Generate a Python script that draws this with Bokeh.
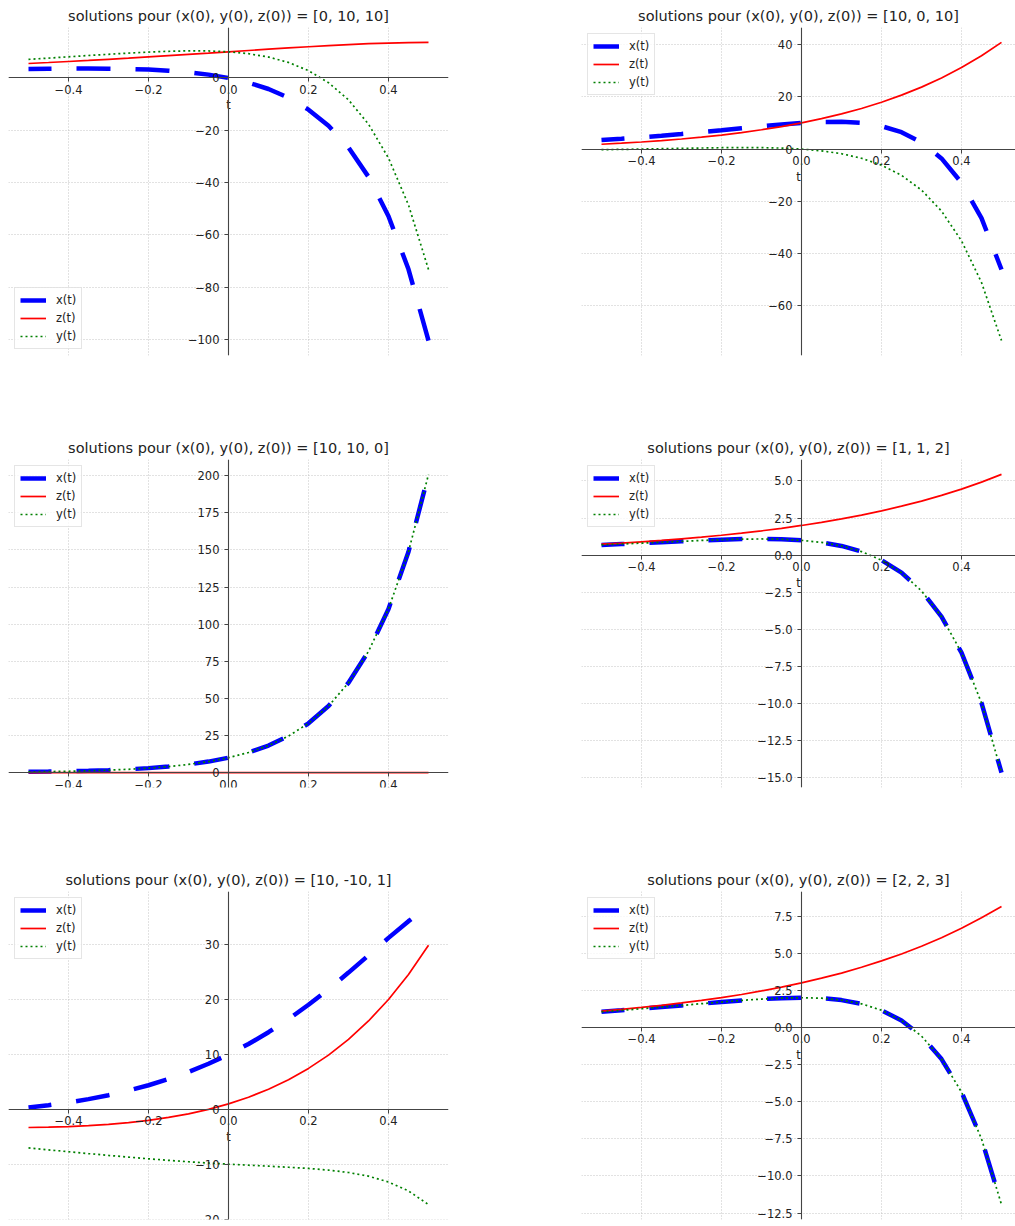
from bokeh.plotting import figure
from bokeh.models import Range1d, FixedTicker, CustomJSTickFormatter, Legend, LegendItem
from bokeh.layouts import column, row
from bokeh.embed import file_html
from bokeh.resources import INLINE

# ---------------- data ----------------
T = [-0.50, -0.45, -0.40, -0.35, -0.30, -0.25, -0.20, -0.15, -0.10, -0.05, 0.00,
     0.05, 0.10, 0.15, 0.20, 0.25, 0.30, 0.35, 0.40, 0.45, 0.50]

# initial condition [0, 10, 10]
x_a = [3.43, 3.53, 3.59, 3.61, 3.56, 3.43, 3.19, 2.78, 2.17, 1.27, 0.00,
       -1.78, -4.22, -7.57, -12.13, -18.29, -26.60, -37.81, -52.89, -73.17, -100.43]
z_a = [5.52, 5.90, 6.29, 6.70, 7.13, 7.58, 8.04, 8.52, 9.01, 9.50, 10.00,
       10.50, 10.99, 11.47, 11.93, 12.37, 12.75, 13.09, 13.35, 13.53, 13.59]
y_a = [7.11, 7.59, 8.08, 8.58, 9.05, 9.50, 9.89, 10.19, 10.36, 10.32, 10.00,
       9.27, 7.99, 5.93, 2.79, -1.80, -8.38, -17.67, -30.64, -48.57, -73.25]

# initial condition [10, 0, 10]
x_b = [3.43, 3.93, 4.49, 5.10, 5.76, 6.47, 7.21, 7.97, 8.72, 9.42, 10.00,
       10.38, 10.43, 9.98, 8.76, 6.45, 2.55, -3.57, -12.84, -26.43, -46.06]
z_b = [1.84, 2.24, 2.70, 3.23, 3.84, 4.55, 5.36, 6.30, 7.37, 8.60, 10.00,
       11.61, 13.44, 15.52, 17.90, 20.61, 23.69, 27.19, 31.16, 35.66, 40.78]
y_b = [-0.25, -0.13, 0.00, 0.13, 0.27, 0.40, 0.51, 0.56, 0.53, 0.37, 0.00,
       -0.67, -1.78, -3.52, -6.16, -10.04, -15.67, -23.71, -35.09, -51.03, -73.24]

# initial condition [10, 10, 0]
x_c = [0.50, 0.67, 0.91, 1.23, 1.65, 2.23, 3.01, 4.07, 5.49, 7.41, 10.00,
       13.50, 18.22, 24.60, 33.20, 44.82, 60.50, 81.66, 110.23, 148.80, 200.86]
z_c = [0.0] * 21
y_c = [0.50, 0.67, 0.91, 1.23, 1.65, 2.23, 3.01, 4.07, 5.49, 7.41, 10.00,
       13.50, 18.22, 24.60, 33.20, 44.82, 60.50, 81.66, 110.23, 148.80, 200.86]

# initial condition [1, 1, 2]
x_d = [0.69, 0.75, 0.81, 0.87, 0.93, 0.99, 1.04, 1.08, 1.09, 1.07, 1.00,
       0.86, 0.62, 0.24, -0.34, -1.18, -2.41, -4.14, -6.57, -9.96, -14.65]
z_d = [0.74, 0.81, 0.90, 0.99, 1.10, 1.21, 1.34, 1.48, 1.64, 1.81, 2.00,
       2.21, 2.44, 2.70, 2.98, 3.30, 3.64, 4.03, 4.45, 4.92, 5.44]
y_d = [0.69, 0.75, 0.81, 0.87, 0.93, 0.99, 1.04, 1.08, 1.09, 1.07, 1.00,
       0.86, 0.62, 0.24, -0.34, -1.18, -2.41, -4.14, -6.57, -9.96, -14.65]

# initial condition [10, -10, 1]
x_e = [0.32, 0.75, 1.26, 1.86, 2.58, 3.42, 4.39, 5.52, 6.82, 8.31, 10.00,
       11.91, 14.06, 16.44, 19.06, 21.90, 24.93, 28.08, 31.26, 34.31, 37.00]
z_e = [-3.31, -3.25, -3.15, -2.98, -2.74, -2.43, -2.01, -1.48, -0.82, 0.00, 1.00,
       2.21, 3.66, 5.40, 7.46, 9.89, 12.75, 16.11, 20.03, 24.60, 29.90]
y_e = [-7.04, -7.39, -7.73, -8.07, -8.40, -8.71, -9.02, -9.30, -9.56, -9.79, -10.00,
       -10.19, -10.37, -10.56, -10.78, -11.08, -11.52, -12.19, -13.25, -14.88, -17.37]

# initial condition [2, 2, 3]
x_f = [1.05, 1.15, 1.26, 1.37, 1.48, 1.60, 1.71, 1.82, 1.91, 1.97, 2.00,
       1.97, 1.84, 1.59, 1.16, 0.47, -0.58, -2.13, -4.35, -7.50, -11.93]
z_f = [1.10, 1.22, 1.35, 1.49, 1.65, 1.82, 2.01, 2.22, 2.46, 2.71, 3.00,
       3.32, 3.66, 4.05, 4.48, 4.95, 5.47, 6.04, 6.68, 7.38, 8.15]
y_f = [1.05, 1.15, 1.26, 1.37, 1.48, 1.60, 1.71, 1.82, 1.91, 1.97, 2.00,
       1.97, 1.84, 1.59, 1.16, 0.47, -0.58, -2.13, -4.35, -7.50, -11.93]

INITS = ["[0, 10, 10]", "[10, 0, 10]", "[10, 10, 0]", "[1, 1, 2]", "[10, -10, 1]", "[2, 2, 3]"]
X_TICKS = [-0.4, -0.2, 0.0, 0.2, 0.4]
Y_TICKS = [
    [-100, -80, -60, -40, -20, 0],
    [-60, -40, -20, 0, 20, 40],
    [0, 25, 50, 75, 100, 125, 150, 175, 200],
    [-15.0, -12.5, -10.0, -7.5, -5.0, -2.5, 0.0, 2.5, 5.0],
    [-20, -10, 0, 10, 20, 30],
    [-12.5, -10.0, -7.5, -5.0, -2.5, 0.0, 2.5, 5.0, 7.5],
]
Y_DEC = [0, 0, 0, 1, 0, 1]
LEGEND_LOC = ["bottom_left", "top_left", "top_left", "top_left", "top_left", "top_left"]
SERIES = [(x_a, y_a, z_a), (x_b, y_b, z_b), (x_c, y_c, z_c),
          (x_d, y_d, z_d), (x_e, y_e, z_e), (x_f, y_f, z_f)]

FONT = "DejaVu Sans"
BLUE, RED, GREEN = "#0000ff", "#ff0000", "#008000"

FRAME_H = 328
LEFT_FW, RIGHT_FW = 440, 434
X_LO, X_HI = -0.55, 0.55


def fmt(dec):
    return CustomJSTickFormatter(code="return tick.toFixed(%d).replace('-', '\\u2212');" % dec)


def make(i):
    xs, ys, zs = SERIES[i]
    right = (i % 2 == 1)
    r = i // 2
    fw = RIGHT_FW if right else LEFT_FW
    x_end = X_LO + (X_HI - X_LO) * fw / LEFT_FW
    allv = xs + ys + zs
    lo, hi = min(allv), max(allv)
    pad = 0.05 * (hi - lo)
    mbt = 27
    mbb = [77, 77, 7][r]
    p = figure(frame_width=fw, frame_height=FRAME_H,
               x_range=Range1d(X_LO, x_end), y_range=Range1d(lo - pad, hi + pad),
               output_backend="svg", toolbar_location=None,
               min_border_left=(0 if right else 8), min_border_right=(0 if right else 133),
               min_border_top=mbt, min_border_bottom=mbb,
               title="solutions pour (x(0), y(0), z(0)) = " + INITS[i])
    p.outline_line_color = None
    p.background_fill_color = "white"
    p.title.text_font = FONT
    p.title.text_font_size = "14.5px"
    p.title.text_font_style = "normal"
    p.title.text_color = "#222222"
    p.title.align = "center"
    p.title.standoff = 7

    xt = FixedTicker(ticks=X_TICKS)
    yt = FixedTicker(ticks=Y_TICKS[i])
    p.xaxis.ticker = xt
    p.yaxis.ticker = yt
    p.xgrid.ticker = xt
    p.ygrid.ticker = yt
    p.xaxis.formatter = fmt(1)
    p.yaxis.formatter = fmt(Y_DEC[i])
    p.xaxis.fixed_location = 0
    p.yaxis.fixed_location = 0
    for ax in (p.xaxis, p.yaxis):
        ax.axis_line_color = "#444444"
        ax.axis_line_width = 1.1
        ax.major_tick_line_color = "#444444"
        ax.major_tick_out = 4
        ax.major_tick_in = 0
        ax.minor_tick_out = 0
        ax.minor_tick_in = 0
        ax.major_label_text_font = FONT
        ax.major_label_text_font_size = "11.5px"
        ax.major_label_text_color = "#222222"
    p.yaxis.major_label_standoff = 5
    p.xaxis.major_label_standoff = 3
    p.xaxis.axis_label = "t"
    p.xaxis.axis_label_text_font = FONT
    p.xaxis.axis_label_text_font_size = "11.5px"
    p.xaxis.axis_label_text_font_style = "normal"
    p.xaxis.axis_label_text_color = "#222222"
    p.xaxis.axis_label_standoff = 1
    for g in (p.xgrid, p.ygrid):
        g.grid_line_color = "#bdbdbd"
        g.grid_line_width = 0.9
        g.grid_line_dash = "1 2"

    p.line(T, xs, line_color=BLUE, line_width=4.5, line_dash="34 25", line_dash_offset=11)
    rz = p.line(T, zs, line_color=RED, line_width=1.7)
    ry = p.line(T, ys, line_color=GREEN, line_width=1.7, line_dash="2 3")
    # solid blue stand-in, hidden in the plot, used only for the legend swatch
    rx_leg = p.line(T, xs, line_color=BLUE, line_width=4.5, visible=False)

    leg = Legend(items=[LegendItem(label="x(t)", renderers=[rx_leg]),
                        LegendItem(label="z(t)", renderers=[rz]),
                        LegendItem(label="y(t)", renderers=[ry])],
                 location=LEGEND_LOC[i])
    leg.label_text_font = FONT
    leg.label_text_font_size = "11.5px"
    leg.label_text_color = "#222222"
    leg.label_text_baseline = "middle"
    leg.glyph_width = 26
    leg.glyph_height = 14
    leg.label_height = 14
    leg.label_standoff = 10
    leg.spacing = 4
    leg.padding = 5
    leg.margin = 6
    leg.border_line_color = "#cccccc"
    leg.border_line_width = 1
    leg.background_fill_alpha = 0.8
    p.add_layout(leg)
    return p


figs = [make(i) for i in range(6)]
layout = column(row(figs[0], figs[1]), row(figs[2], figs[3]), row(figs[4], figs[5]))

with open("out.html", "w") as f:
    f.write(file_html(layout, INLINE))
